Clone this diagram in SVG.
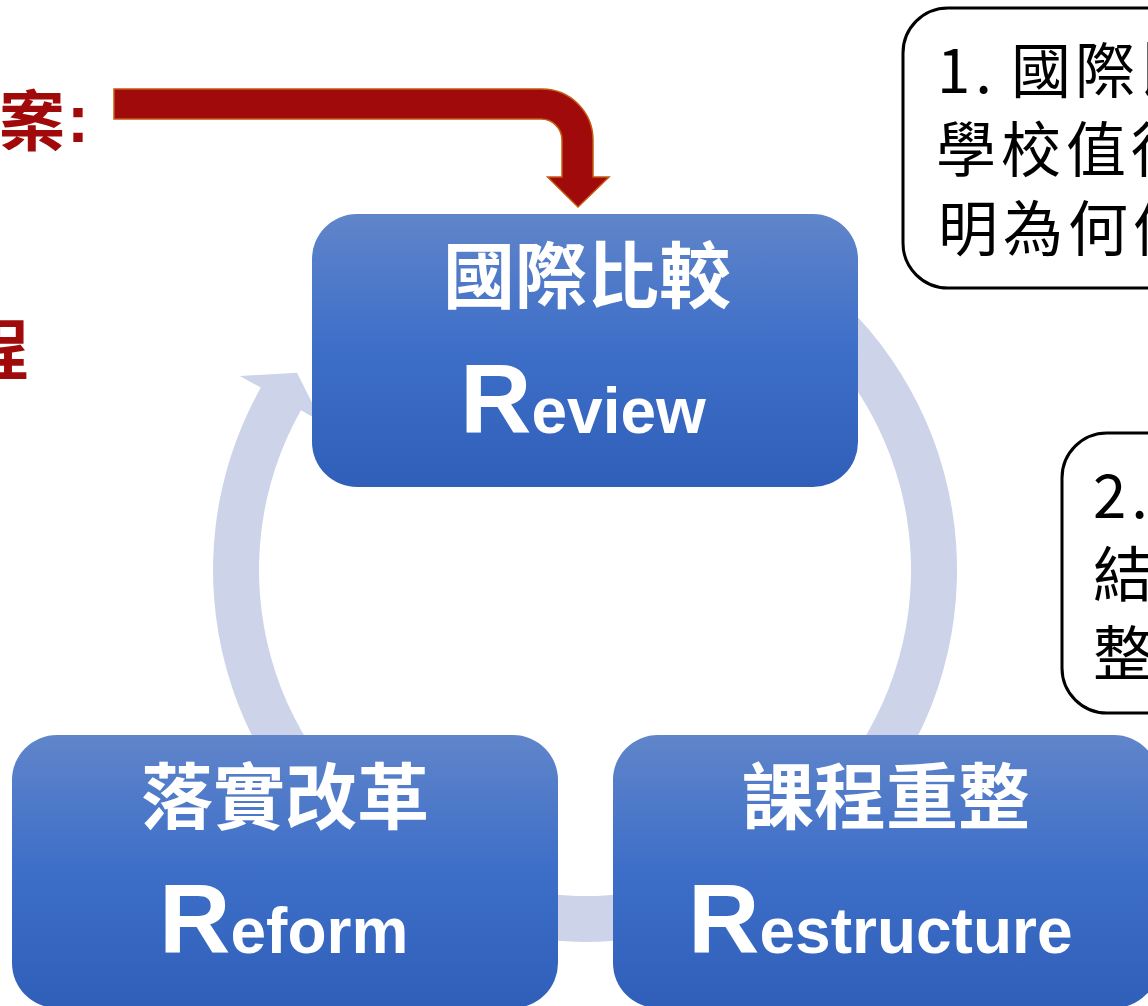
<svg xmlns="http://www.w3.org/2000/svg" width="1148" height="1006" viewBox="0 0 1148 1006">
<defs>
<linearGradient id="boxGrad" x1="0" y1="0" x2="0" y2="1">
<stop offset="0" stop-color="#6085CA"/>
<stop offset="0.5" stop-color="#3D6EC8"/>
<stop offset="1" stop-color="#2F5FB9"/>
</linearGradient>
<style>
.box{fill:url(#boxGrad);}
.title{font-family:"Noto Sans CJK TC","Noto Sans CJK SC",sans-serif;font-weight:bold;font-size:72px;fill:#FFFFFF;text-anchor:middle;}
.big{font-family:"Liberation Sans",Arial,sans-serif;font-weight:bold;fill:#FFFFFF;}
.cap{font-size:99px;}
.small{font-size:64px;}
.callout{fill:#FFFFFF;stroke:#000000;stroke-width:3;}
.ctext{font-family:"Noto Sans CJK TC","Noto Sans CJK SC",sans-serif;font-size:60px;fill:#000000;letter-spacing:5px;}
.red{font-family:"Noto Sans CJK TC","Noto Sans CJK SC",sans-serif;font-weight:bold;font-size:66px;fill:#A00A0A;}
.band{fill:#CDD4EA;}
.redarrow{fill:#A00A0A;stroke:#C55A11;stroke-width:1.5;}
</style>
</defs>
<rect width="1148" height="1006" fill="#FFFFFF"/>

<g id="left-text">
<text class="red" x="-1" y="145">案<tspan x="67" y="142" font-family="Liberation Sans, sans-serif">:</tspan></text>
<text class="red" x="29" y="374" text-anchor="end">程</text>
</g>

<g id="connectors">
<path id="cycle-arrow" class="band" d="M 771,247.8 A 372 372 0 1 1 260.8,387.6 L 239.8,375.9 L 297,372.8 L 321.8,422 L 300.9,410.2 A 326 326 0 1 0 748,287.7 Z"/>
<path id="red-arrow" class="redarrow" d="M 114,89 L 542,89 A 51 51 0 0 1 593,140 L 593,177 L 609,177 L 578,207 L 547.6,177 L 562,177 L 562,140 A 21 21 0 0 0 541,119 L 114,119 Z"/>
</g>

<g id="node-review">
<rect class="box" x="312" y="214" width="546" height="273" rx="45" ry="45"/>
<text class="title" x="587" y="302">國際比較</text>
<text class="big" x="460" y="433"><tspan class="cap">R</tspan><tspan class="small">eview</tspan></text>
</g>

<g id="node-reform">
<rect class="box" x="12" y="735" width="546" height="273" rx="45" ry="45"/>
<text class="title" x="285" y="823">落實改革</text>
<text class="big" x="159" y="953"><tspan class="cap">R</tspan><tspan class="small">eform</tspan></text>
</g>

<g id="node-restructure">
<rect class="box" x="613" y="735" width="546" height="273" rx="45" ry="45"/>
<text class="title" x="886" y="823">課程重整</text>
<text class="big" x="688" y="953"><tspan class="cap">R</tspan><tspan class="small">estructure</tspan></text>
</g>

<g id="callout-1">
<rect class="callout" x="903" y="8" width="300" height="280" rx="45" ry="45"/>
<text class="ctext" x="937" y="93" letter-spacing="2">1.<tspan x="1011">國</tspan><tspan x="1075">際</tspan><tspan x="1139">比</tspan></text>
<text class="ctext" x="936" y="172" letter-spacing="7">學校值得</text>
<text class="ctext" x="938" y="251">明為何值</text>
</g>

<g id="callout-2">
<rect class="callout" x="1062" y="433" width="200" height="280" rx="45" ry="45"/>
<text class="ctext" x="1093" y="518">2.</text>
<text class="ctext" x="1093" y="597">結</text>
<text class="ctext" x="1093" y="676">整</text>
</g>
</svg>
